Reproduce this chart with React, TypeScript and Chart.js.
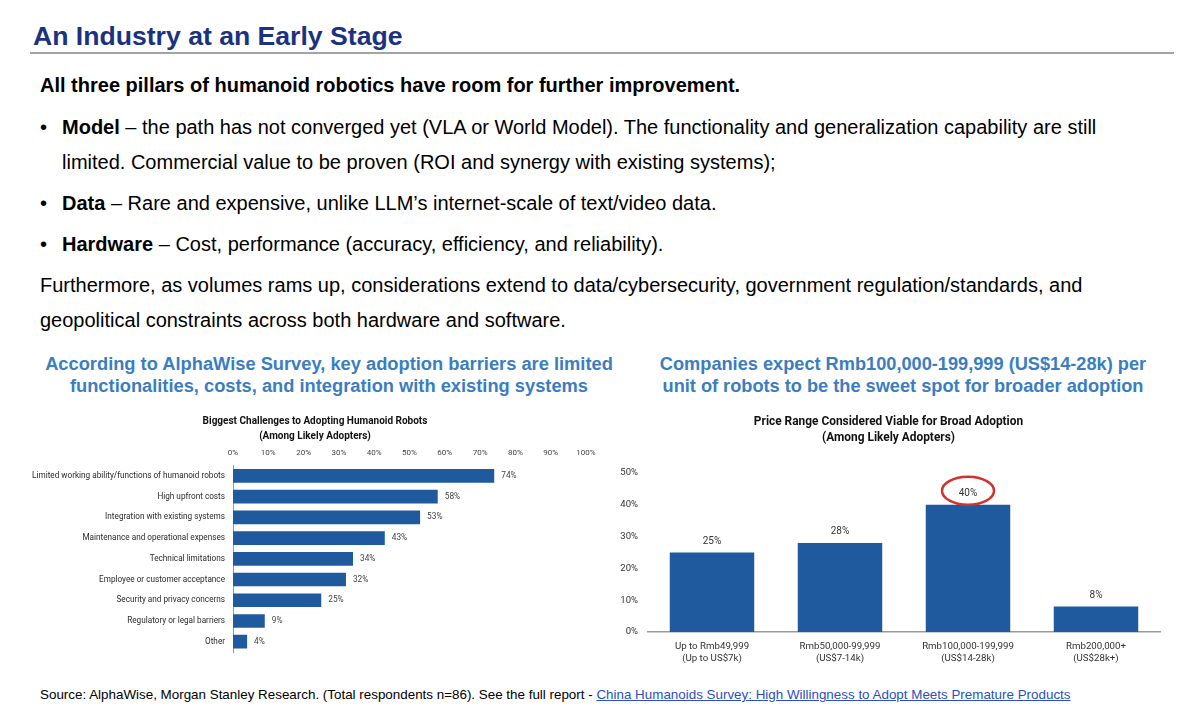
import React, { useEffect, useRef } from "react";
import { Chart, registerables } from "chart.js";

Chart.register(...registerables);

// ---------- Data ----------
const challengeCategories = [
  "Limited working ability/functions of humanoid robots",
  "High upfront costs",
  "Integration with existing systems",
  "Maintenance and operational expenses",
  "Technical limitations",
  "Employee or customer acceptance",
  "Security and privacy concerns",
  "Regulatory or legal barriers",
  "Other",
];
const challengeValues = [74, 58, 53, 43, 34, 32, 25, 9, 4];
const challengeTitle = ["Biggest Challenges to Adopting Humanoid Robots", "(Among Likely Adopters)"];

const priceCategories = [
  ["Up to Rmb49,999", "(Up to US$7k)"],
  ["Rmb50,000-99,999", "(US$7-14k)"],
  ["Rmb100,000-199,999", "(US$14-28k)"],
  ["Rmb200,000+", "(US$28k+)"],
];
const priceValues = [25, 28, 40, 8];
const priceHighlightIndex = 2;
const priceTitle = ["Price Range Considered Viable for Broad Adoption", "(Among Likely Adopters)"];

const BAR = "#1F5A9E";
const SANS = "'Liberation Sans', Arial, Helvetica, sans-serif";
const CHART_FONT = "Roboto, 'Liberation Sans', sans-serif";

// ---------- Plugins ----------
const hLabelPlugin = {
  id: "hLabels",
  afterDatasetsDraw(chart: any) {
    const ctx = chart.ctx;
    const meta = chart.getDatasetMeta(0);
    const data = chart.data.datasets[0].data;
    ctx.save();
    ctx.font = `8.3px ${CHART_FONT}`;
    ctx.fillStyle = "#444";
    ctx.textAlign = "left";
    ctx.textBaseline = "middle";
    meta.data.forEach((bar: any, i: number) => {
      ctx.fillText(`${data[i]}%`, bar.x + 7, bar.y);
    });
    ctx.restore();
  },
};

const vLabelPlugin = {
  id: "vLabels",
  afterDatasetsDraw(chart: any) {
    const ctx = chart.ctx;
    const meta = chart.getDatasetMeta(0);
    const data = chart.data.datasets[0].data;
    ctx.save();
    ctx.font = `10px ${CHART_FONT}`;
    ctx.fillStyle = "#333";
    ctx.textAlign = "center";
    ctx.textBaseline = "middle";
    meta.data.forEach((bar: any, i: number) => {
      const ly = bar.y - 11;
      ctx.fillText(`${data[i]}%`, bar.x, ly);
      if (i === priceHighlightIndex) {
        ctx.beginPath();
        ctx.ellipse(bar.x, ly - 3, 26, 14, 0, 0, Math.PI * 2);
        ctx.strokeStyle = "#D2322D";
        ctx.lineWidth = 2.5;
        ctx.stroke();
      }
    });
    ctx.restore();
  },
};

// ---------- Charts ----------
function ChallengesChart() {
  const ref = useRef<HTMLCanvasElement>(null);
  useEffect(() => {
    const chart = new Chart(ref.current as HTMLCanvasElement, {
      type: "bar",
      data: {
        labels: challengeCategories,
        datasets: [
          {
            data: challengeValues,
            backgroundColor: BAR,
            barPercentage: 0.66,
            categoryPercentage: 1,
          },
        ],
      },
      options: {
        indexAxis: "y",
        animation: false,
        responsive: false,
        devicePixelRatio: 1,
        layout: { padding: { left: 0, right: 0, top: 0, bottom: 7 } },
        plugins: {
          legend: { display: false },
          tooltip: { enabled: false },
          title: {
            display: true,
            text: challengeTitle,
            color: "#111",
            font: { family: CHART_FONT, size: 10, weight: "bold", lineHeight: 1.5 },
            padding: { top: 8.5, bottom: 2 },
          },
        },
        scales: {
          x: {
            position: "top",
            min: 0,
            max: 100,
            ticks: {
              stepSize: 10,
              callback: (v: any) => `${v}%`,
              font: { family: CHART_FONT, size: 8 },
              color: "#444",
              padding: 7.5,
              maxRotation: 0,
            },
            grid: { display: false, drawTicks: false },
            border: { display: false },
            afterFit: (s: any) => {
              s.height = 20;
            },
          },
          y: {
            ticks: {
              font: { family: CHART_FONT, size: 8.2 },
              color: "#2a2a2a",
              padding: 8,
            },
            grid: { display: false, drawTicks: false },
            border: { display: true, color: "#9a9a9a", width: 1 },
            afterFit: (s: any) => {
              s.width = 208;
            },
          },
          spacer: {
            type: "linear",
            position: "right",
            display: true,
            ticks: { display: false },
            grid: { display: false, drawTicks: false },
            border: { display: false },
            afterFit: (s: any) => {
              s.width = 19;
            },
          },
        },
      },
      plugins: [hLabelPlugin],
    } as any);
    return () => chart.destroy();
  }, []);
  return (
    <canvas
      ref={ref}
      width={580}
      height={260}
      style={{ position: "absolute", left: 25, top: 405, width: 580, height: 260 }}
    />
  );
}

function PriceChart() {
  const ref = useRef<HTMLCanvasElement>(null);
  useEffect(() => {
    const chart = new Chart(ref.current as HTMLCanvasElement, {
      type: "bar",
      data: {
        labels: priceCategories,
        datasets: [
          {
            data: priceValues,
            backgroundColor: BAR,
            barPercentage: 0.66,
            categoryPercentage: 1,
          },
        ],
      },
      options: {
        animation: false,
        responsive: false,
        devicePixelRatio: 1,
        layout: { padding: { left: 7, right: 10, top: 0, bottom: 0 } },
        plugins: {
          legend: { display: false },
          tooltip: { enabled: false },
          title: {
            display: true,
            text: priceTitle,
            color: "#111",
            font: { family: CHART_FONT, size: 11.9, weight: "bold", lineHeight: 16 / 11.9 },
            padding: { top: 9, bottom: 27 },
          },
        },
        scales: {
          x: {
            ticks: {
              font: { family: CHART_FONT, size: 9.7, lineHeight: 12 / 9.7 },
              color: "#333",
              padding: 9,
              maxRotation: 0,
            },
            grid: { display: false, drawTicks: false },
            border: { display: true, color: "#9a9a9a", width: 1.5 },
            afterFit: (s: any) => {
              s.height = 43;
            },
          },
          y: {
            min: 0,
            max: 50,
            ticks: {
              stepSize: 10,
              callback: (v: any) => `${v}%`,
              font: { family: CHART_FONT, size: 9.5 },
              color: "#333",
              padding: 10,
            },
            grid: { display: false, drawTicks: false },
            border: { display: false },
            afterFit: (s: any) => {
              s.width = 31;
            },
          },
        },
      },
      plugins: [vLabelPlugin],
    } as any);
    return () => chart.destroy();
  }, []);
  return (
    <canvas
      ref={ref}
      width={560}
      height={270}
      style={{ position: "absolute", left: 610, top: 405, width: 560, height: 270 }}
    />
  );
}

// ---------- Text helpers ----------
function Line(props: { y: number; x: number; size: number; children: any; style?: any; h?: number }) {
  const h = props.h ?? 30;
  return (
    <div
      style={{
        position: "absolute",
        left: props.x,
        top: props.y - h / 2,
        height: h,
        lineHeight: `${h}px`,
        fontSize: props.size,
        whiteSpace: "nowrap",
        fontFamily: SANS,
        color: "#000",
        ...(props.style || {}),
      }}
    >
      {props.children}
    </div>
  );
}

function Centered(props: { y: number; cx: number; size: number; children: any; style?: any }) {
  return (
    <div
      style={{
        position: "absolute",
        left: props.cx - 400,
        width: 800,
        textAlign: "center",
        top: props.y - 12,
        height: 24,
        lineHeight: "24px",
        fontSize: props.size,
        whiteSpace: "nowrap",
        fontFamily: SANS,
        ...(props.style || {}),
      }}
    >
      {props.children}
    </div>
  );
}

const BULLET_X = 40;
const TEXT_X = 62;
const BODY = 20;
const subStyle = { color: "#3A7DC0", fontWeight: "bold" };

export default function App() {
  useEffect(() => {
    document.body.style.margin = "0";
  }, []);
  return (
    <div
      style={{
        position: "absolute",
        left: 0,
        top: 0,
        width: 1200,
        height: 727,
        background: "#fff",
        overflow: "hidden",
        fontFamily: SANS,
      }}
    >
      <Line y={35.5} x={33} size={26.6} h={36} style={{ fontWeight: "bold", color: "#1B3281" }}>
        An Industry at an Early Stage
      </Line>
      <div
        style={{
          position: "absolute",
          left: 30,
          top: 51.5,
          width: 1144,
          height: 2,
          background: "#A3A3A3",
        }}
      />

      <Line y={84.5} x={40} size={BODY} style={{ fontWeight: "bold" }}>
        All three pillars of humanoid robotics have room for further improvement.
      </Line>

      <Line y={126.7} x={BULLET_X} size={BODY}>•</Line>
      <Line y={126.7} x={TEXT_X} size={BODY}>
        <b>Model</b> – the path has not converged yet (VLA or World Model). The functionality and generalization capability are still
      </Line>
      <Line y={161.7} x={TEXT_X} size={BODY}>
        limited. Commercial value to be proven (ROI and synergy with existing systems);
      </Line>

      <Line y={202.5} x={BULLET_X} size={BODY}>•</Line>
      <Line y={202.5} x={TEXT_X} size={BODY}>
        <b>Data</b> – Rare and expensive, unlike LLM’s internet-scale of text/video data.
      </Line>

      <Line y={243.8} x={BULLET_X} size={BODY}>•</Line>
      <Line y={243.8} x={TEXT_X} size={BODY}>
        <b>Hardware</b> – Cost, performance (accuracy, efficiency, and reliability).
      </Line>

      <Line y={285} x={40} size={BODY}>
        Furthermore, as volumes rams up, considerations extend to data/cybersecurity, government regulation/standards, and
      </Line>
      <Line y={319.5} x={40} size={BODY}>
        geopolitical constraints across both hardware and software.
      </Line>

      <Centered y={364} cx={329} size={18.3} style={subStyle}>
        According to AlphaWise Survey, key adoption barriers are limited
      </Centered>
      <Centered y={386} cx={329} size={18.3} style={subStyle}>
        functionalities, costs, and integration with existing systems
      </Centered>
      <Centered y={364} cx={903} size={18.2} style={subStyle}>
        Companies expect Rmb100,000-199,999 (US$14-28k) per
      </Centered>
      <Centered y={386} cx={903} size={18.2} style={subStyle}>
        unit of robots to be the sweet spot for broader adoption
      </Centered>

      <ChallengesChart />
      <PriceChart />

      <Line y={695} x={40} size={13.4} h={20}>
        Source: AlphaWise, Morgan Stanley Research. (Total respondents n=86). See the full report -{" "}
        <span style={{ color: "#2B4FC4", textDecoration: "underline" }}>
          China Humanoids Survey: High Willingness to Adopt Meets Premature Products
        </span>
      </Line>
    </div>
  );
}
